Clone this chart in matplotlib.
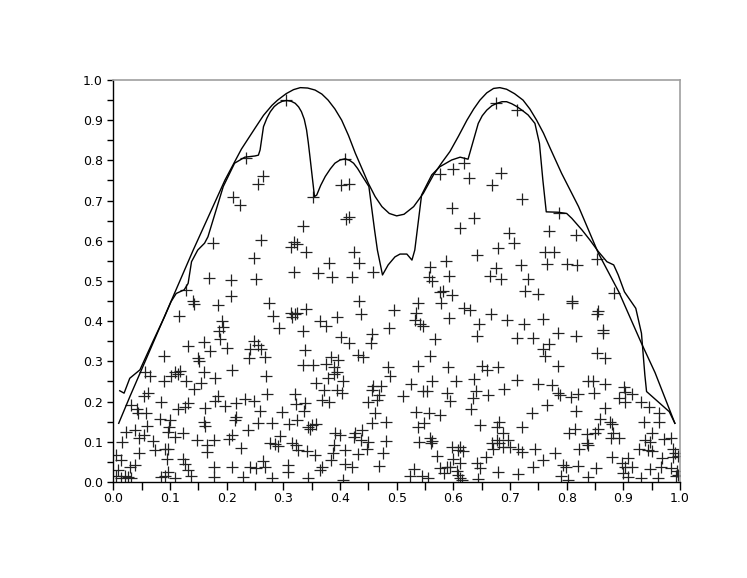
import matplotlib
matplotlib.use("Agg")
import matplotlib.pyplot as plt
from matplotlib.ticker import MultipleLocator
from matplotlib.transforms import ScaledTranslation

# smooth envelope curve
env_x = [0.0095, 0.03, 0.05, 0.08, 0.11, 0.141, 0.17, 0.197, 0.226, 0.25, 0.265, 0.28,
         0.29, 0.305, 0.318, 0.33, 0.343, 0.356, 0.368, 0.379, 0.391, 0.403, 0.415,
         0.427, 0.439, 0.45, 0.462, 0.474, 0.487, 0.50, 0.513, 0.53, 0.547, 0.565,
         0.58, 0.594, 0.609, 0.624, 0.636, 0.647, 0.659, 0.671, 0.682, 0.694, 0.708,
         0.723, 0.735, 0.747, 0.759, 0.771, 0.791, 0.821, 0.856, 0.892, 0.932, 0.956,
         0.991]
env_y = [0.146, 0.215, 0.28, 0.378, 0.476, 0.577, 0.667, 0.751, 0.828, 0.88, 0.912, 0.937,
         0.950, 0.966, 0.976, 0.981, 0.980, 0.975, 0.965, 0.950, 0.928, 0.900, 0.862,
         0.818, 0.779, 0.743, 0.710, 0.685, 0.668, 0.662, 0.666, 0.685, 0.718, 0.764,
         0.795, 0.822, 0.860, 0.900, 0.928, 0.950, 0.968, 0.979, 0.981, 0.977, 0.966,
         0.950, 0.928, 0.900, 0.868, 0.830, 0.768, 0.685, 0.569, 0.473, 0.345, 0.272,
         0.146]

# jagged estimate curve
est_x = [0.0113, 0.019, 0.029, 0.047, 0.07, 0.09, 0.102, 0.111, 0.125, 0.132, 0.138,
         0.149, 0.161, 0.167, 0.194, 0.214, 0.232, 0.250, 0.256, 0.259, 0.265, 0.271,
         0.277, 0.284, 0.291, 0.298, 0.306, 0.314, 0.321, 0.327, 0.332, 0.337, 0.341,
         0.344, 0.347, 0.355, 0.359, 0.366, 0.374, 0.383, 0.391, 0.400, 0.409, 0.417,
         0.424, 0.431, 0.438, 0.451, 0.461, 0.466, 0.475, 0.485, 0.497, 0.506, 0.518,
         0.527, 0.532, 0.544, 0.562, 0.576, 0.597, 0.612, 0.626, 0.644, 0.651, 0.659,
         0.668, 0.677, 0.686, 0.694, 0.703, 0.712, 0.722, 0.732, 0.744, 0.752, 0.758,
         0.764, 0.785, 0.800, 0.809, 0.827, 0.841, 0.856, 0.871, 0.883, 0.891, 0.902,
         0.922, 0.932, 0.938, 0.941, 0.981, 0.991]
est_y = [0.227, 0.221, 0.258, 0.279, 0.35, 0.41, 0.449, 0.469, 0.478, 0.494, 0.548,
         0.577, 0.594, 0.610, 0.735, 0.793, 0.808, 0.811, 0.813, 0.826, 0.884, 0.905,
         0.921, 0.934, 0.942, 0.947, 0.949, 0.947, 0.942, 0.933, 0.921, 0.902, 0.876,
         0.845, 0.809, 0.710, 0.714, 0.738, 0.760, 0.779, 0.793, 0.801, 0.804, 0.800,
         0.793, 0.780, 0.764, 0.735, 0.627, 0.577, 0.515, 0.540, 0.560, 0.567, 0.567,
         0.552, 0.577, 0.714, 0.764, 0.784, 0.801, 0.808, 0.803, 0.892, 0.911, 0.925,
         0.936, 0.942, 0.946, 0.946, 0.941, 0.934, 0.924, 0.913, 0.892, 0.842, 0.751,
         0.672, 0.671, 0.668, 0.656, 0.627, 0.602, 0.573, 0.548, 0.540, 0.515, 0.473,
         0.432, 0.370, 0.266, 0.225, 0.175, 0.146]

# sample points, 10 per row
pts_x = [0.305, 0.676, 0.712, 0.235, 0.211, 0.223, 0.176, 0.409, 0.265, 0.256,
         0.353, 0.402, 0.416, 0.416, 0.411, 0.335, 0.261, 0.318, 0.314, 0.324,
         0.340, 0.424, 0.618, 0.600, 0.577, 0.628, 0.684, 0.669, 0.721, 0.598,
         0.637, 0.611, 0.699, 0.707, 0.678, 0.769, 0.762, 0.641, 0.786, 0.816,
         0.778, 0.248, 0.169, 0.207, 0.252, 0.129, 0.141, 0.142, 0.208, 0.185,
         0.116, 0.191, 0.194, 0.187, 0.189, 0.160, 0.132, 0.201, 0.171, 0.089,
         0.149, 0.152, 0.249, 0.241, 0.239, 0.056, 0.108, 0.117, 0.160, 0.210,
         0.434, 0.381, 0.319, 0.362, 0.386, 0.421, 0.459, 0.275, 0.434, 0.495,
         0.282, 0.314, 0.321, 0.316, 0.325, 0.340, 0.437, 0.365, 0.375, 0.394,
         0.292, 0.335, 0.486, 0.456, 0.455, 0.401, 0.416, 0.255, 0.261, 0.268,
         0.338, 0.431, 0.441, 0.335, 0.353, 0.375, 0.384, 0.397, 0.390, 0.394,
         0.485, 0.587, 0.765, 0.719, 0.675, 0.559, 0.592, 0.665, 0.684, 0.557,
         0.562, 0.732, 0.576, 0.581, 0.597, 0.578, 0.727, 0.750, 0.537, 0.535,
         0.618, 0.629, 0.666, 0.593, 0.532, 0.542, 0.546, 0.694, 0.646, 0.725,
         0.759, 0.641, 0.568, 0.712, 0.740, 0.768, 0.758, 0.761, 0.559, 0.537,
         0.591, 0.650, 0.660, 0.678, 0.800, 0.818, 0.854, 0.884, 0.809, 0.809,
         0.856, 0.853, 0.785, 0.816, 0.865, 0.865, 0.853, 0.868, 0.785, 0.064,
         0.102, 0.114, 0.129, 0.155, 0.180, 0.089, 0.142, 0.062, 0.054, 0.084,
         0.131, 0.126, 0.114, 0.185, 0.180, 0.197, 0.161, 0.217, 0.233, 0.249,
         0.032, 0.041, 0.044, 0.058, 0.082, 0.100, 0.098, 0.060, 0.160, 0.161,
         0.216, 0.214, 0.238, 0.023, 0.039, 0.097, 0.123, 0.055, 0.045, 0.108,
         0.147, 0.178, 0.209, 0.204, 0.015, 0.070, 0.073, 0.091, 0.097, 0.165,
         0.165, 0.226, 0.045, 0.005, 0.014, 0.094, 0.123, 0.126, 0.038, 0.029,
         0.178, 0.209, 0.241, 0.252, 0.008, 0.097, 0.132, 0.020, 0.026, 0.005,
         0.085, 0.091, 0.108, 0.137, 0.178, 0.229, 0.014, 0.032, 0.269, 0.390,
         0.378, 0.406, 0.488, 0.358, 0.372, 0.394, 0.403, 0.459, 0.473, 0.456,
         0.468, 0.511, 0.271, 0.321, 0.338, 0.322, 0.368, 0.381, 0.450, 0.466,
         0.259, 0.297, 0.337, 0.461, 0.256, 0.280, 0.310, 0.324, 0.344, 0.350,
         0.357, 0.347, 0.456, 0.482, 0.294, 0.391, 0.400, 0.426, 0.438, 0.425,
         0.277, 0.285, 0.291, 0.315, 0.322, 0.437, 0.450, 0.481, 0.390, 0.326,
         0.341, 0.356, 0.409, 0.388, 0.432, 0.447, 0.476, 0.385, 0.409, 0.421,
         0.469, 0.265, 0.268, 0.309, 0.309, 0.368, 0.365, 0.280, 0.344, 0.406,
         0.525, 0.563, 0.605, 0.636, 0.712, 0.750, 0.547, 0.553, 0.588, 0.640,
         0.661, 0.689, 0.595, 0.635, 0.765, 0.534, 0.557, 0.576, 0.632, 0.738,
         0.538, 0.548, 0.647, 0.681, 0.677, 0.722, 0.688, 0.559, 0.562, 0.540,
         0.560, 0.677, 0.697, 0.668, 0.681, 0.670, 0.688, 0.700, 0.714, 0.722,
         0.744, 0.597, 0.612, 0.617, 0.609, 0.571, 0.600, 0.612, 0.658, 0.641,
         0.758, 0.588, 0.594, 0.576, 0.647, 0.740, 0.530, 0.524, 0.544, 0.556,
         0.584, 0.606, 0.678, 0.715, 0.612, 0.615, 0.644, 0.609, 0.837, 0.847,
         0.868, 0.774, 0.785, 0.788, 0.808, 0.820, 0.849, 0.902, 0.903, 0.916,
         0.892, 0.903, 0.931, 0.816, 0.868, 0.945, 0.963, 0.859, 0.876, 0.936,
         0.963, 0.880, 0.815, 0.856, 0.805, 0.836, 0.850, 0.882, 0.878, 0.892,
         0.950, 0.938, 0.947, 0.972, 0.984, 0.836, 0.838, 0.822, 0.928, 0.944,
         0.950, 0.988, 0.991, 0.779, 0.880, 0.909, 0.968, 0.988, 0.997, 0.794,
         0.798, 0.820, 0.851, 0.897, 0.903, 0.916, 0.947, 0.966, 0.984, 0.994,
         0.997, 0.993, 0.790, 0.838, 0.900, 0.909, 0.932, 0.962, 0.803]
pts_y = [0.950, 0.942, 0.925, 0.807, 0.708, 0.690, 0.595, 0.804, 0.762, 0.741,
         0.710, 0.738, 0.741, 0.660, 0.655, 0.637, 0.601, 0.596, 0.585, 0.592,
         0.573, 0.571, 0.793, 0.778, 0.766, 0.755, 0.768, 0.738, 0.705, 0.681,
         0.656, 0.631, 0.620, 0.594, 0.581, 0.625, 0.573, 0.565, 0.670, 0.614,
         0.573, 0.556, 0.507, 0.502, 0.504, 0.478, 0.449, 0.443, 0.463, 0.440,
         0.414, 0.400, 0.385, 0.376, 0.355, 0.348, 0.338, 0.334, 0.327, 0.313,
         0.308, 0.301, 0.351, 0.331, 0.308, 0.274, 0.274, 0.277, 0.274, 0.279,
         0.546, 0.546, 0.523, 0.519, 0.511, 0.509, 0.522, 0.446, 0.449, 0.428,
         0.414, 0.421, 0.418, 0.411, 0.421, 0.430, 0.417, 0.400, 0.388, 0.411,
         0.384, 0.376, 0.384, 0.368, 0.345, 0.361, 0.345, 0.341, 0.331, 0.310,
         0.328, 0.316, 0.312, 0.291, 0.291, 0.294, 0.310, 0.303, 0.285, 0.274,
         0.285, 0.550, 0.542, 0.540, 0.532, 0.536, 0.512, 0.513, 0.504, 0.509,
         0.501, 0.504, 0.473, 0.476, 0.465, 0.446, 0.476, 0.468, 0.445, 0.421,
         0.432, 0.428, 0.417, 0.409, 0.403, 0.393, 0.388, 0.403, 0.393, 0.392,
         0.405, 0.364, 0.356, 0.357, 0.357, 0.343, 0.331, 0.313, 0.314, 0.289,
         0.285, 0.289, 0.279, 0.287, 0.542, 0.540, 0.554, 0.469, 0.450, 0.446,
         0.426, 0.418, 0.370, 0.363, 0.378, 0.371, 0.322, 0.308, 0.289, 0.264,
         0.264, 0.269, 0.252, 0.246, 0.258, 0.250, 0.231, 0.221, 0.214, 0.198,
         0.197, 0.186, 0.181, 0.214, 0.202, 0.189, 0.185, 0.197, 0.206, 0.202,
         0.192, 0.181, 0.171, 0.171, 0.156, 0.153, 0.138, 0.139, 0.150, 0.139,
         0.162, 0.154, 0.129, 0.125, 0.129, 0.125, 0.121, 0.117, 0.109, 0.113,
         0.104, 0.104, 0.117, 0.106, 0.099, 0.102, 0.080, 0.081, 0.082, 0.092,
         0.075, 0.084, 0.071, 0.067, 0.055, 0.056, 0.056, 0.045, 0.042, 0.037,
         0.037, 0.037, 0.038, 0.034, 0.030, 0.026, 0.030, 0.015, 0.012, 0.015,
         0.012, 0.015, 0.009, 0.015, 0.012, 0.012, 0.009, 0.009, 0.264, 0.269,
         0.258, 0.252, 0.264, 0.247, 0.229, 0.229, 0.222, 0.239, 0.239, 0.229,
         0.216, 0.214, 0.219, 0.219, 0.196, 0.194, 0.204, 0.200, 0.200, 0.204,
         0.177, 0.175, 0.177, 0.171, 0.146, 0.146, 0.144, 0.153, 0.138, 0.142,
         0.144, 0.131, 0.146, 0.148, 0.115, 0.121, 0.117, 0.121, 0.129, 0.113,
         0.096, 0.095, 0.090, 0.096, 0.092, 0.104, 0.100, 0.103, 0.092, 0.080,
         0.077, 0.067, 0.080, 0.073, 0.070, 0.081, 0.073, 0.055, 0.045, 0.037,
         0.040, 0.051, 0.038, 0.042, 0.026, 0.038, 0.030, 0.009, 0.009, 0.005,
         0.244, 0.250, 0.252, 0.255, 0.254, 0.244, 0.227, 0.227, 0.222, 0.227,
         0.216, 0.231, 0.202, 0.208, 0.192, 0.175, 0.171, 0.167, 0.181, 0.172,
         0.138, 0.146, 0.142, 0.150, 0.136, 0.136, 0.121, 0.109, 0.103, 0.100,
         0.098, 0.104, 0.104, 0.096, 0.096, 0.082, 0.086, 0.088, 0.081, 0.075,
         0.082, 0.088, 0.086, 0.078, 0.080, 0.065, 0.056, 0.048, 0.061, 0.048,
         0.055, 0.038, 0.037, 0.036, 0.034, 0.038, 0.032, 0.015, 0.015, 0.009,
         0.023, 0.028, 0.026, 0.020, 0.009, 0.005, 0.007, 0.017, 0.252, 0.250,
         0.243, 0.241, 0.222, 0.216, 0.212, 0.219, 0.222, 0.236, 0.225, 0.219,
         0.208, 0.200, 0.198, 0.177, 0.183, 0.186, 0.172, 0.156, 0.150, 0.150,
         0.150, 0.144, 0.131, 0.131, 0.121, 0.119, 0.123, 0.123, 0.109, 0.109,
         0.121, 0.104, 0.100, 0.106, 0.109, 0.098, 0.092, 0.082, 0.082, 0.080,
         0.077, 0.081, 0.071, 0.073, 0.063, 0.059, 0.059, 0.061, 0.065, 0.042,
         0.037, 0.040, 0.034, 0.047, 0.037, 0.037, 0.032, 0.038, 0.034, 0.028,
         0.017, 0.015, 0.015, 0.012, 0.022, 0.012, 0.009, 0.009, 0.005]

fig = plt.figure(figsize=(7.47, 5.78), dpi=100)
ax = fig.add_axes([0.1517, 0.1661, 0.7586, 0.6955])

ax.plot(pts_x, pts_y, linestyle="none", marker="+", markersize=8,
        markeredgewidth=0.9, color="#222222")
ax.plot(env_x, env_y, color="black", linewidth=1.0)
ax.plot(est_x, est_y, color="black", linewidth=1.0)

ax.set_xlim(0, 1)
ax.set_ylim(0, 1)
ax.xaxis.set_major_locator(MultipleLocator(0.1))
ax.yaxis.set_major_locator(MultipleLocator(0.1))
ax.xaxis.set_minor_locator(MultipleLocator(0.05))
ax.yaxis.set_minor_locator(MultipleLocator(0.05))
ax.xaxis.set_major_formatter(plt.FormatStrFormatter("%.1f"))
ax.yaxis.set_major_formatter(plt.FormatStrFormatter("%.1f"))
ax.tick_params(axis="x", which="both", direction="out", length=5.5, width=1,
               pad=1.5, labelsize=9, top=False)
ax.tick_params(axis="y", which="both", direction="out", length=4.5, width=1,
               pad=3, labelsize=9, right=False)

for side in ["left", "bottom"]:
    ax.spines[side].set_color("black")
    ax.spines[side].set_linewidth(1.0)
for side in ["top", "right"]:
    ax.spines[side].set_color("#a0a0a0")
    ax.spines[side].set_linewidth(1.2)

# first x label sits a bit right of its tick, clear of the y labels
fig.canvas.draw()
first = ax.xaxis.get_major_ticks()[0].label1
first.set_transform(first.get_transform() + ScaledTranslation(0.06, 0, fig.dpi_scale_trans))

fig.savefig("out.png", dpi=100)
